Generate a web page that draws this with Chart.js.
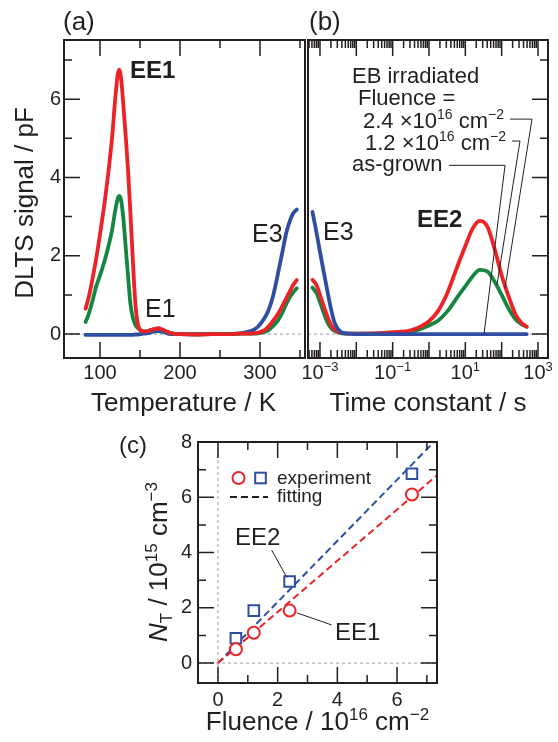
<!DOCTYPE html>
<html>
<head>
<meta charset="utf-8">
<title>DLTS spectra and trap density vs fluence</title>
<script src="https://cdn.jsdelivr.net/npm/chart.js@4.4.1/dist/chart.umd.min.js"></script>
<style>
  body { margin: 0; background: #fff; }
  #wrap { position: relative; width: 558px; height: 742px; overflow: hidden; background: #fff; }
  canvas { position: absolute; }
</style>
</head>
<body>
<div id="wrap">
  <canvas id="chartA" width="306" height="420" style="left:0;top:0"></canvas>
  <canvas id="chartB" width="262" height="420" style="left:296px;top:0"></canvas>
  <canvas id="chartC" width="458" height="322" style="left:100px;top:420px"></canvas>
</div>
<script>
// ---- values ----

// (a) DLTS spectra vs temperature
const tempK = [82, 86, 90, 95, 100, 105, 110, 115, 119, 122, 124, 126, 129, 132, 135,
  138, 141, 144, 147, 150, 154, 158, 163, 168, 173, 178, 184, 190, 200, 220,
  240, 260, 275, 285, 292, 298, 304, 310, 316, 322, 328, 333, 338, 342, 346];
const dlts24 = [0.65, 0.95, 1.35, 1.9, 2.55, 3.25, 4.05, 5.0, 6.0, 6.6, 6.75, 6.6, 5.9, 5.1, 4.2,
  3.1, 1.9, 0.85, 0.28, 0.12, 0.07, 0.07, 0.1, 0.13, 0.15, 0.12, 0.06, 0.02, 0, -0.01,
  0, 0, 0.01, 0.01, 0.02, 0.04, 0.08, 0.18, 0.33, 0.5, 0.72, 0.92, 1.12, 1.27, 1.38];
const dlts12 = [0.31, 0.52, 0.8, 1.2, 1.5, 1.82, 2.2, 2.65, 3.15, 3.45, 3.53, 3.45, 3.0, 2.25, 1.5,
  0.78, 0.42, 0.25, 0.16, 0.1, 0.07, 0.07, 0.1, 0.13, 0.14, 0.11, 0.05, 0.02, 0, -0.01,
  0, 0, 0.01, 0.01, 0.01, 0.02, 0.05, 0.09, 0.2, 0.34, 0.55, 0.78, 0.97, 1.08, 1.17];
const dltsAsGrown = [-0.02, -0.02, -0.02, -0.02, -0.02, -0.02, -0.02, -0.02, -0.02, -0.02, -0.02, -0.02, -0.02, -0.02, -0.02,
  -0.02, -0.02, -0.01, -0.01, 0, 0.01, 0.02, 0.04, 0.07, 0.08, 0.06, 0.02, 0, 0, 0,
  0, 0, 0.02, 0.06, 0.11, 0.2, 0.36, 0.58, 0.95, 1.5, 2.1, 2.6, 2.93, 3.1, 3.18];
const tempTickLabels = [100, 200, 300];
const signalTickLabels = [0, 2, 4, 6];

// (b) DLTS spectra vs time constant
const tauS = [6.2e-4, 8e-4, 1e-3, 1.26e-3, 1.6e-3, 2e-3, 2.5e-3, 3.2e-3, 4e-3, 6.3e-3,
  0.01, 0.032, 0.1, 0.32, 1, 1.8, 3.2, 5.6, 10, 16, 25, 40, 63, 100, 160, 250, 355, 490];
const tau24 = [1.39, 1.25, 1.0, 0.72, 0.45, 0.24, 0.12, 0.06, 0.03, 0.01,
  0.01, 0.02, 0.05, 0.1, 0.33, 0.6, 1.05, 1.65, 2.25, 2.7, 2.89, 2.75, 2.2, 1.5, 0.93, 0.47, 0.28, 0.19];
const tau12 = [1.19, 1.05, 0.82, 0.55, 0.3, 0.16, 0.08, 0.04, 0.02, 0.01,
  0.01, 0.01, 0.02, 0.06, 0.22, 0.35, 0.58, 0.9, 1.22, 1.48, 1.64, 1.6, 1.35, 1.0, 0.63, 0.36, 0.25, 0.19];
const tauAsGrown = [3.12, 2.6, 2.1, 1.6, 1.1, 0.65, 0.3, 0.12, 0.04, 0.01,
  0, 0, 0, 0, 0, 0, 0, 0, 0, 0, 0, 0, 0, 0, 0, 0, 0, 0];
const tauTickExponents = [-3, -1, 1, 3];

// (c) trap density vs fluence
const fluence = [0.6, 1.2, 2.4, 6.5];
const ntEE1 = [0.5, 1.1, 1.9, 6.1];
const ntEE2 = [0.9, 1.9, 2.95, 6.85];
const fitFluence = [0, 7.4];
const fitEE1 = [0, 6.85];
const fitEE2 = [0, 8.18];
const fluenceTickLabels = [0, 2, 4, 6];
const ntTickLabels = [0, 2, 4, 6, 8];

// ---- look ----
const FONT = "'Liberation Sans', Arial, Helvetica, sans-serif";
const INK = '#231f20';
const RED = '#ec2227';
const GREEN = '#158640';
const BLUE = '#2f4ea3';

Chart.defaults.font.family = FONT;
Chart.defaults.color = INK;

function fontStr(size, kind) {
  const w = kind === 'b' ? 'bold ' : '';
  const s = kind === 'it' ? 'italic ' : '';
  return s + w + size + 'px ' + FONT;
}

// runs: [text, kind] with kind '', 'b', 'it', 'sup', 'sub'; y is the baseline
function richText(ctx, runs, x, y, size, align) {
  const pieces = runs.map(r => {
    const kind = r[1] || '';
    const small = kind === 'sup' || kind === 'sub';
    const f = fontStr(small ? Math.round(size * 0.64) : size, kind);
    ctx.font = f;
    return { t: r[0], f, w: ctx.measureText(r[0]).width,
      dy: kind === 'sup' ? -size * 0.4 : kind === 'sub' ? size * 0.2 : 0 };
  });
  const total = pieces.reduce((s, p) => s + p.w, 0);
  let cx = align === 'center' ? x - total / 2 : align === 'right' ? x - total : x;
  ctx.textAlign = 'left';
  ctx.textBaseline = 'alphabetic';
  ctx.fillStyle = INK;
  pieces.forEach(p => { ctx.font = p.f; ctx.fillText(p.t, cx, y + p.dy); cx += p.w; });
  return total;
}

function frame(chart) {
  const { ctx, chartArea: a } = chart;
  ctx.save();
  ctx.strokeStyle = INK;
  ctx.lineWidth = 2;
  ctx.strokeRect(a.left, a.top, a.right - a.left, a.bottom - a.top);
  ctx.restore();
}

// tick marks pointing into the plot
function inTicks(chart, axisId, values, isMajor, sides) {
  const { ctx, chartArea: a } = chart;
  const sc = chart.scales[axisId];
  ctx.save();
  ctx.strokeStyle = INK;
  ctx.lineWidth = 1.5;
  ctx.beginPath();
  values.forEach(v => {
    const p = sc.getPixelForValue(v);
    const len = isMajor(v) ? 16 : 8;
    sides.forEach(s => {
      if (s === 'top') { ctx.moveTo(p, a.top); ctx.lineTo(p, a.top + len); }
      if (s === 'bottom') { ctx.moveTo(p, a.bottom); ctx.lineTo(p, a.bottom - len); }
      if (s === 'left') { ctx.moveTo(a.left, p); ctx.lineTo(a.left + len, p); }
      if (s === 'right') { ctx.moveTo(a.right, p); ctx.lineTo(a.right - len, p); }
    });
  });
  ctx.stroke();
  ctx.restore();
}

function dashedRef(chart, axisId, value) {
  const { ctx, chartArea: a } = chart;
  const p = chart.scales[axisId].getPixelForValue(value);
  ctx.save();
  ctx.strokeStyle = '#9a9a9a';
  ctx.lineWidth = 1;
  ctx.setLineDash([3, 3]);
  ctx.beginPath();
  if (axisId === 'y') { ctx.moveTo(a.left, p); ctx.lineTo(a.right, p); }
  else { ctx.moveTo(p, a.top); ctx.lineTo(p, a.bottom); }
  ctx.stroke();
  ctx.restore();
}

// polyline given in data units
function leader(chart, pts) {
  const { ctx } = chart;
  ctx.save();
  ctx.strokeStyle = INK;
  ctx.lineWidth = 1;
  ctx.beginPath();
  pts.forEach((p, i) => {
    const x = chart.scales.x.getPixelForValue(p[0]);
    const y = chart.scales.y.getPixelForValue(p[1]);
    if (i === 0) ctx.moveTo(x, y); else ctx.lineTo(x, y);
  });
  ctx.stroke();
  ctx.restore();
}

function curve(xs, ys, color, order) {
  return {
    data: xs.map((x, i) => ({ x, y: ys[i] })),
    borderColor: color, borderWidth: 3.8, pointRadius: 0, fill: false,
    cubicInterpolationMode: 'monotone', borderCapStyle: 'round', borderJoinStyle: 'round', order
  };
}

function baseOptions(pad) {
  return {
    responsive: false, devicePixelRatio: 1, animation: false,
    layout: { padding: pad },
    plugins: { legend: { display: false }, tooltip: { enabled: false } },
    elements: { point: { radius: 0 } }
  };
}

const range = (a, b) => { const o = []; for (let i = a; i <= b; i++) o.push(i); return o; };
const even = v => Math.abs(v % 2) < 1e-9;

// ---- (a) ----
new Chart(document.getElementById('chartA'), {
  type: 'line',
  data: { datasets: [
    curve(tempK, dlts24, RED, 0),
    curve(tempK, dlts12, GREEN, 1),
    curve(tempK, dltsAsGrown, BLUE, 2)
  ] },
  options: {
    ...baseOptions({ left: 0, top: 40, right: 1, bottom: 0 }),
    scales: {
      x: {
        type: 'linear', min: 55, max: 356.25,
        grid: { display: false, drawTicks: false }, border: { display: false },
        afterBuildTicks: s => { s.ticks = tempTickLabels.map(v => ({ value: v })); },
        afterFit: s => { s.height = 62; },
        ticks: { font: { size: 20 }, color: INK, padding: 3, maxRotation: 0, autoSkip: false }
      },
      y: {
        min: -0.61, max: 7.51,
        grid: { display: false, drawTicks: false }, border: { display: false },
        afterBuildTicks: s => { s.ticks = signalTickLabels.map(v => ({ value: v })); },
        afterFit: s => { s.width = 64; },
        ticks: { font: { size: 20 }, color: INK, padding: 3 }
      }
    }
  },
  plugins: [{
    id: 'decorA',
    beforeDatasetsDraw(chart) { dashedRef(chart, 'y', 0); },
    afterDraw(chart) {
      frame(chart);
      inTicks(chart, 'x', [100, 150, 200, 250, 300, 350], v => v % 100 === 0, ['top', 'bottom']);
      inTicks(chart, 'y', range(0, 7), even, ['left']);
      const ctx = chart.ctx;
      ctx.save();
      richText(ctx, [['(a)']], 63, 30, 26, 'left');
      richText(ctx, [['EE1', 'b']], 130, 78, 24, 'left');
      richText(ctx, [['E1']], 145, 317, 25, 'left');
      richText(ctx, [['E3']], 252, 242, 25, 'left');
      richText(ctx, [['Temperature / K']], 183.5, 411, 26, 'center');
      ctx.translate(33, 203);
      ctx.rotate(-Math.PI / 2);
      richText(ctx, [['DLTS signal / pF']], 0, 0, 26, 'center');
      ctx.restore();
    }
  }]
});

// ---- (b) ----
const OXB = 296;
new Chart(document.getElementById('chartB'), {
  type: 'line',
  data: { datasets: [
    curve(tauS, tauAsGrown, BLUE, 0),
    curve(tauS, tau24, RED, 1),
    curve(tauS, tau12, GREEN, 2)
  ] },
  options: {
    ...baseOptions({ left: 12, top: 40, right: 10, bottom: 0 }),
    scales: {
      x: {
        type: 'logarithmic', min: 4.68e-4, max: 1884,
        grid: { display: false, drawTicks: false }, border: { display: false },
        ticks: { display: false },
        afterFit: s => { s.height = 62; }
      },
      y: { display: false, min: -0.61, max: 7.51 }
    }
  },
  plugins: [{
    id: 'decorB',
    beforeDatasetsDraw(chart) { dashedRef(chart, 'y', 0); },
    afterDraw(chart) {
      frame(chart);
      const sx = chart.scales.x;
      const logTicks = [];
      for (let k = -4; k <= 3; k++) {
        for (let m = 1; m <= 9; m++) {
          const v = m * Math.pow(10, k);
          if (v >= sx.min && v <= sx.max) logTicks.push({ v, major: m === 1 });
        }
      }
      inTicks(chart, 'x', logTicks.filter(t => t.major).map(t => t.v), () => true, ['top', 'bottom']);
      inTicks(chart, 'x', logTicks.filter(t => !t.major).map(t => t.v), () => false, ['top', 'bottom']);
      inTicks(chart, 'y', range(0, 7), even, ['right']);

      leader(chart, [[170, 5.49], [684, 5.49], [123, 1.17]]);
      leader(chart, [[193, 4.93], [320, 4.93], [74, 1.25]]);
      leader(chart, [[3.56, 4.31], [124, 4.31], [32.7, 0]]);

      const ctx = chart.ctx;
      tauTickExponents.forEach(e => {
        const px = sx.getPixelForValue(Math.pow(10, e));
        richText(ctx, [['10'], [e < 0 ? '\u2212' + (-e) : String(e), 'sup']], px, 379, 20, 'center');
      });
      ctx.save();
      ctx.translate(-OXB, 0);
      richText(ctx, [['(b)']], 309, 30, 26, 'left');
      richText(ctx, [['E3']], 323, 240, 25, 'left');
      richText(ctx, [['EE2', 'b']], 417, 227, 24, 'left');
      richText(ctx, [['EB irradiated']], 352, 83, 22, 'left');
      richText(ctx, [['Fluence =']], 358, 105, 22, 'left');
      richText(ctx, [['2.4 \u00d710'], ['16', 'sup'], [' cm'], ['\u22122', 'sup']], 363, 128, 22, 'left');
      richText(ctx, [['1.2 \u00d710'], ['16', 'sup'], [' cm'], ['\u22122', 'sup']], 365, 150, 22, 'left');
      richText(ctx, [['as-grown']], 352, 171, 22, 'left');
      richText(ctx, [['Time constant / s']], 428, 411, 26, 'center');
      ctx.restore();
    }
  }]
});

// ---- (c) ----
const OXC = 100, OYC = 420;
new Chart(document.getElementById('chartC'), {
  type: 'scatter',
  data: { datasets: [
    {
      type: 'line', data: fitFluence.map((x, i) => ({ x, y: fitEE2[i] })),
      borderColor: BLUE, borderWidth: 2, borderDash: [7, 4], pointRadius: 0, clip: 0, order: 3
    },
    {
      type: 'line', data: fitFluence.map((x, i) => ({ x, y: fitEE1[i] })),
      borderColor: RED, borderWidth: 2, borderDash: [7, 4], pointRadius: 0, clip: 0, order: 2
    },
    {
      data: fluence.map((x, i) => ({ x, y: ntEE2[i] })),
      pointStyle: 'rect', pointRadius: 7.5, pointBorderWidth: 2,
      pointBorderColor: BLUE, pointBackgroundColor: '#fff', order: 1
    },
    {
      data: fluence.map((x, i) => ({ x, y: ntEE1[i] })),
      pointStyle: 'circle', pointRadius: 6, pointBorderWidth: 2,
      pointBorderColor: RED, pointBackgroundColor: '#fff', order: 0
    }
  ] },
  options: {
    ...baseOptions({ left: 0, top: 22, right: 121, bottom: 0 }),
    scales: {
      x: {
        type: 'linear', min: -0.67, max: 7.34,
        grid: { display: false, drawTicks: false }, border: { display: false },
        afterBuildTicks: s => { s.ticks = fluenceTickLabels.map(v => ({ value: v })); },
        afterFit: s => { s.height = 59; },
        ticks: { font: { size: 20 }, color: INK, padding: 5, maxRotation: 0, autoSkip: false }
      },
      y: {
        min: -0.72, max: 8,
        grid: { display: false, drawTicks: false }, border: { display: false },
        afterBuildTicks: s => { s.ticks = ntTickLabels.map(v => ({ value: v })); },
        afterFit: s => { s.width = 98; },
        ticks: { font: { size: 20 }, color: INK, padding: 6 }
      }
    }
  },
  plugins: [{
    id: 'decorC',
    beforeDatasetsDraw(chart) { dashedRef(chart, 'y', 0); dashedRef(chart, 'x', 0); },
    afterDraw(chart) {
      frame(chart);
      inTicks(chart, 'x', range(0, 7), even, ['top', 'bottom']);
      inTicks(chart, 'y', range(0, 8), even, ['left', 'right']);
      leader(chart, [[1.80, 4.09], [2.30, 3.11]]);
      leader(chart, [[2.64, 1.82], [3.81, 1.38]]);

      const ctx = chart.ctx;
      ctx.save();
      ctx.translate(-OXC, -OYC);
      // legend
      ctx.lineWidth = 2;
      ctx.strokeStyle = RED;
      ctx.beginPath(); ctx.arc(238.5, 478, 6, 0, Math.PI * 2); ctx.stroke();
      ctx.strokeStyle = BLUE;
      ctx.strokeRect(255.2, 472.7, 10.6, 10.6);
      ctx.strokeStyle = INK;
      ctx.setLineDash([7, 4]);
      ctx.beginPath(); ctx.moveTo(230, 497); ctx.lineTo(268, 497); ctx.stroke();
      ctx.setLineDash([]);
      richText(ctx, [['experiment']], 277, 484, 19, 'left');
      richText(ctx, [['fitting']], 277, 502, 19, 'left');
      richText(ctx, [['EE2']], 235, 545, 24, 'left');
      richText(ctx, [['EE1']], 335, 640, 24, 'left');
      richText(ctx, [['(c)']], 147, 453, 24, 'right');
      richText(ctx, [['Fluence / 10'], ['16', 'sup'], [' cm'], ['\u22122', 'sup']], 317.5, 730, 26, 'center');
      ctx.translate(167, 562);
      ctx.rotate(-Math.PI / 2);
      richText(ctx, [['N', 'it'], ['T', 'sub'], [' / 10'], ['15', 'sup'], [' cm'], ['\u22123', 'sup']], 0, 0, 26, 'center');
      ctx.restore();
    }
  }]
});
</script>
</body>
</html>
